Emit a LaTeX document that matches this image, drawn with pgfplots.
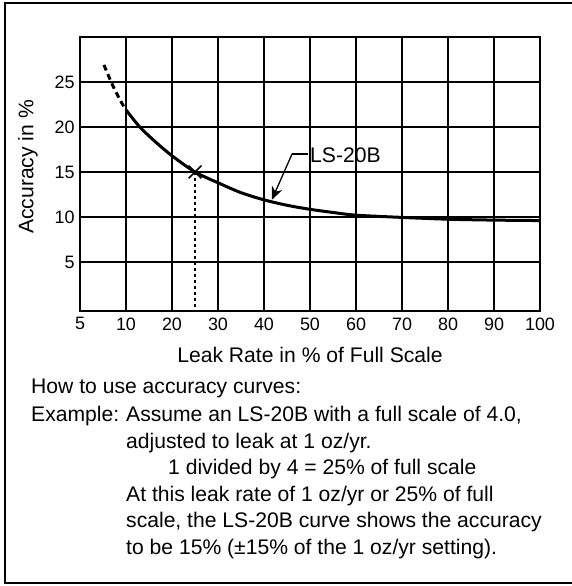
\documentclass[border=0pt]{standalone}
\usepackage{pgfplots}
\pgfplotsset{compat=1.18}
\usepackage{fontspec}
\setmainfont{Liberation Sans}
\usetikzlibrary{arrows.meta}
\begin{document}
\begin{tikzpicture}
\useasboundingbox (0,0) rectangle (572bp,586bp);
\draw[line width=2bp] (575bp,583bp) -- (5bp,583bp) -- (5bp,3bp) -- (575bp,3bp);
\begin{axis}[
  at={(80bp,275bp)}, anchor=south west,
  scale only axis, width=460bp, height=274bp,
  xmin=0, xmax=10, ymin=-0.45, ymax=30,
  xtick={0,1,2,3,4,5,6,7,8,9,10},
  xticklabels={5,10,20,30,40,50,60,70,80,90,100},
  ytick={5,10,15,20,25},
  grid=major,
  major grid style={black, line width=1.2bp},
  axis line style={black, line width=1.2bp},
  major tick length=0pt,
  /pgf/number format/assume math mode=true,
  xticklabel style={yshift=-3bp, font=\fontsize{18}{21}\selectfont},
  yticklabel style={xshift=-2bp, font=\fontsize{18}{21}\selectfont},
  xlabel={Leak Rate in \% of Full Scale},
  ylabel={Accuracy in \%},
  every axis x label/.style={at={(axis description cs:0.5,-0.16)}, anchor=center, font=\fontsize{21.2}{25}\selectfont},
  every axis y label/.style={at={(axis description cs:-0.113,0.526)}, rotate=90, anchor=center, font=\fontsize{21.2}{25}\selectfont},
  clip=false,
]
\addplot[black, line width=3bp, dash pattern=on 6bp off 4bp, smooth] coordinates {
  (0.52,26.9) (0.74,24.3) (0.98,22.0)
};
\addplot[black, line width=3bp, smooth] coordinates {
  (1.0,21.9) (1.3,20.0) (1.65,18.3) (2.0,16.8) (2.5,15.0) (3.0,13.8)
  (3.5,12.7) (4.0,11.9) (4.5,11.3) (5.0,10.85) (5.5,10.5) (6.0,10.2)
  (7.0,9.95) (8.0,9.75) (9.0,9.65) (10.0,9.6)
};
\addplot[black, line width=1.2bp, dash pattern=on 3bp off 3bp] coordinates {(2.5,15) (2.5,-0.45)};
\addplot[black, only marks, mark=x, mark size=9bp, mark options={line width=1.7bp}] coordinates {(2.5,15)};
\draw[line width=1.3bp] (axis cs:4.96,17.0) -- (axis cs:4.61,17.0);
\draw[line width=1.3bp, -{Stealth[length=13bp,width=11bp,inset=4bp]}] (axis cs:4.61,17.0) -- (axis cs:4.17,11.9);
\node[anchor=west, inner sep=0pt, font=\fontsize{21.2}{25}\selectfont] at (axis cs:5.0,16.9) {LS-20B};
\end{axis}
\begin{scope}[every node/.style={anchor=base west, inner sep=0pt, font=\fontsize{21.2}{25}\selectfont}]
\node at (31bp,192.5bp) {How to use accuracy curves:};
\node at (31bp,164.5bp) {Example:};
\node at (126bp,164.5bp) {Assume an LS-20B with a full scale of 4.0,};
\node at (126bp,137.5bp) {adjusted to leak at 1 oz/yr.};
\node at (168bp,111.5bp) {1 divided by 4 = 25\% of full scale};
\node at (126bp,84.5bp) {At this leak rate of 1 oz/yr or 25\% of full};
\node at (126bp,58.5bp) {scale, the LS-20B curve shows the accuracy};
\node at (126bp,31.5bp) {to be 15\% (±15\% of the 1 oz/yr setting).};
\end{scope}
\end{tikzpicture}
\end{document}
